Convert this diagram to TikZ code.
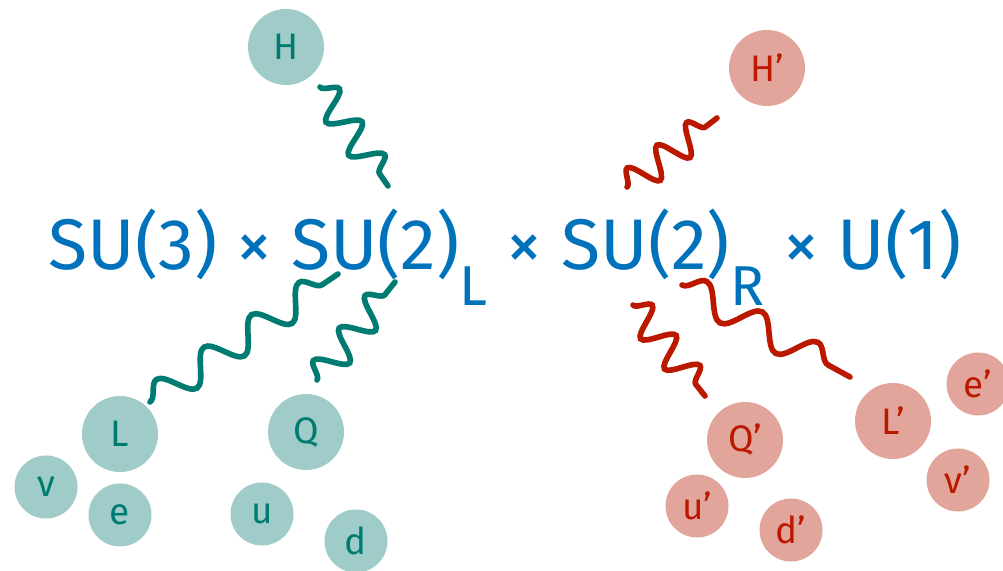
\documentclass[tikz,border=0pt]{standalone}
\usepackage{fontspec}
\setmainfont{Fira Sans}
\usetikzlibrary{decorations.pathmorphing}
\definecolor{fillTeal}{RGB}{159,203,200}
\definecolor{inkTeal}{RGB}{0,123,114}
\definecolor{fillRed}{RGB}{226,165,155}
\definecolor{inkRed}{RGB}{187,24,0}
\definecolor{groupBlue}{RGB}{0,114,187}

\begin{document}
\begin{tikzpicture}[
    bigball/.style={circle, minimum size=1.52cm, inner sep=0pt, font=\fontsize{21}{23}\selectfont},
    smallball/.style={circle, minimum size=1.26cm, inner sep=0pt, font=\fontsize{21}{23}\selectfont},
    tealball/.style={fill=fillTeal, text=inkTeal},
    redball/.style={fill=fillRed, text=inkRed},
    wig/.style={line width=3.2pt, line cap=round, decorate,
      decoration={snake, amplitude=0.3cm, segment length=#1}}
  ]
  \useasboundingbox (0,0) rectangle (20.06,11.4);

  % gauge group
  \node[anchor=base, text=groupBlue, font=\fontsize{40.8}{44}\selectfont] (group) at (10.1,6.0)
    {SU(3) × SU(2)\raisebox{-0.5em}{\fontsize{32}{34}\selectfont L} × SU(2)\raisebox{-0.5em}{\fontsize{32}{34}\selectfont R} × U(1)};

  % left-handed sector
  \node[bigball, tealball] (H) at (5.72,10.46) {H};
  \node[bigball, tealball] (L) at (2.40,2.72) {L};
  \node[smallball, tealball] (nu) at (0.92,1.66) {ν};
  \node[smallball, tealball] (e) at (2.40,1.10) {e};
  \node[bigball, tealball] (Q) at (6.12,2.76) {Q};
  \node[smallball, tealball] (u) at (5.24,1.12) {u};
  \node[smallball, tealball] (d) at (7.12,0.58) {d};

  % right-handed sector
  \node[bigball, redball] (Hp) at (15.34,10.04) {H’};
  \node[bigball, redball] (Qp) at (14.90,2.60) {Q’};
  \node[smallball, redball] (up) at (13.94,1.28) {u’};
  \node[smallball, redball] (dp) at (15.82,0.80) {d’};
  \node[bigball, redball] (Lp) at (17.86,2.98) {L’};
  \node[smallball, redball] (ep) at (19.56,3.72) {e’};
  \node[smallball, redball] (nup) at (19.16,1.80) {ν’};

  % wiggle end points
  \coordinate (wH1) at (6.40,9.66);   \coordinate (wH2) at (7.76,7.68);
  \coordinate (wL1) at (3.00,3.36);   \coordinate (wL2) at (6.76,5.92);
  \coordinate (wQ1) at (6.34,3.80);   \coordinate (wQ2) at (7.90,5.76);
  \coordinate (wHp1) at (12.54,7.66); \coordinate (wHp2) at (14.34,9.04);
  \coordinate (wQp1) at (12.66,5.30); \coordinate (wQp2) at (14.10,3.48);
  \coordinate (wLp1) at (13.64,5.70); \coordinate (wLp2) at (17.00,3.86);

  \draw[wig=0.8cm, inkTeal] (wH1) -- (wH2);
  \draw[wig=1.15cm, inkTeal] (wL1) -- (wL2);
  \draw[wig=0.83cm, inkTeal] (wQ1) -- (wQ2);
  \draw[wig=0.75cm, inkRed] (wHp1) -- (wHp2);
  \draw[wig=0.77cm, inkRed] (wQp1) -- (wQp2);
  \draw[wig=1.27cm, inkRed] (wLp1) -- (wLp2);
\end{tikzpicture}
\end{document}
